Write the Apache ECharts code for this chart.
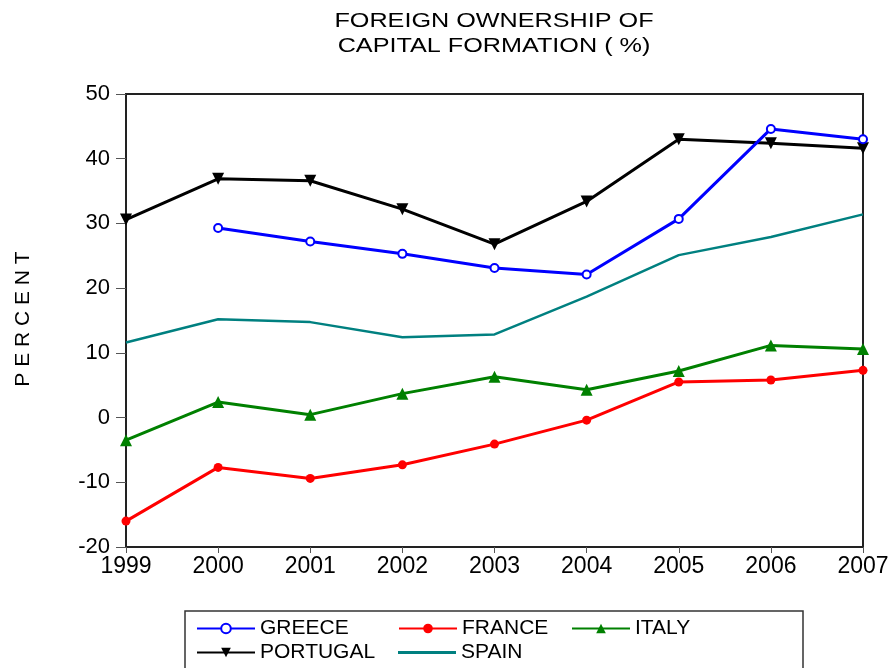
<!DOCTYPE html>
<html>
<head>
<meta charset="utf-8">
<script src="https://cdn.jsdelivr.net/npm/echarts@6/dist/echarts.min.js"></script>
<style>
    html, body { margin: 0; padding: 0; background: #fff; }
    #chart { width: 894px; height: 668px; }
</style>
</head>
<body>
<div id="chart"></div>
<script>
    // 数据
    var years = ['1999', '2000', '2001', '2002', '2003', '2004', '2005', '2006', '2007'];
    var greece = [null, 29.3, 27.2, 25.3, 23.1, 22.1, 30.7, 44.6, 43.0];
    var france = [-16.0, -7.7, -9.4, -7.3, -4.1, -0.4, 5.5, 5.8, 7.3];
    var italy = [-3.5, 2.4, 0.45, 3.7, 6.3, 4.3, 7.2, 11.15, 10.6];
    var portugal = [30.6, 36.9, 36.6, 32.2, 26.8, 33.4, 43.0, 42.4, 41.6];
    var spain = [11.6, 15.2, 14.75, 12.4, 12.85, 18.7, 25.1, 27.9, 31.4];

    var font = 'Liberation Sans, Arial, sans-serif';

    //图例，每个单独定位
    function makeLegend(name, left, top, extra) {
        var lg = {
            data: [name],
            left: left,
            top: top,
            padding: 0,
            itemWidth: 58,
            itemHeight: 12,
            itemGap: 10,
            textStyle: {color: '#000', fontSize: 21, fontFamily: font}
        };
        if (extra) {
            for (var k in extra) lg[k] = extra[k];
        }
        return lg;
    }

    //标题文字（横向稍拉伸）
    function titleLine(text, y) {
        return {
            type: 'text',
            x: 494,
            y: y,
            scaleX: 1.2,
            style: {
                text: text,
                fill: '#000',
                fontSize: 21,
                fontFamily: font,
                textAlign: 'center',
                textVerticalAlign: 'middle'
            }
        };
    }

    var option = {
        backgroundColor: '#fff',
        animation: false,
        grid: {
            left: 126,
            right: 31,
            top: 94,
            bottom: 121,
            show: true,
            borderColor: '#222',
            borderWidth: 2,
            backgroundColor: '#fff'
        },
        legend: [
            makeLegend('GREECE', 196, 618),
            makeLegend('FRANCE', 398, 618),
            makeLegend('ITALY', 571, 618),
            makeLegend('PORTUGAL', 196, 642),
            makeLegend('SPAIN', 398, 642, {icon: 'rect', itemHeight: 3})
        ],
        graphic: [
            titleLine('FOREIGN OWNERSHIP OF', 21),
            titleLine('CAPITAL FORMATION ( %)', 46),
            {
                type: 'rect',
                shape: {x: 185, y: 611, width: 618, height: 70},
                style: {fill: 'none', stroke: '#333', lineWidth: 1.5}
            },
            {
                type: 'text',
                x: 23,
                y: 319,
                rotation: Math.PI / 2,
                style: {
                    text: 'P E R C E N T',
                    fill: '#000',
                    fontSize: 21,
                    fontFamily: font,
                    textAlign: 'center',
                    textVerticalAlign: 'middle'
                }
            }
        ],
        xAxis: {
            type: 'category',
            data: years,
            boundaryGap: false,
            axisLine: {onZero: false, lineStyle: {color: '#222', width: 2}},
            axisTick: {show: true, length: 6, alignWithLabel: true, lineStyle: {color: '#555', width: 1}},
            axisLabel: {color: '#000', fontSize: 23, fontFamily: font, margin: 8},
            splitLine: {show: false}
        },
        yAxis: {
            type: 'value',
            min: -20,
            max: 50,
            interval: 10,
            axisLine: {show: true, lineStyle: {color: '#222', width: 2}},
            axisTick: {show: true, length: 10, lineStyle: {color: '#555', width: 1}},
            axisLabel: {color: '#000', fontSize: 22, fontFamily: font, margin: 16},
            splitLine: {show: false}
        },
        series: [
            {
                name: 'GREECE',
                type: 'line',
                data: greece,
                lineStyle: {width: 3, color: '#0000ff'},
                symbol: 'circle',
                symbolSize: 8,
                itemStyle: {color: '#fff', borderColor: '#0000ff', borderWidth: 2},
                z: 4
            },
            {
                name: 'FRANCE',
                type: 'line',
                data: france,
                color: '#ff0000',
                lineStyle: {width: 3},
                symbol: 'circle',
                symbolSize: 9
            },
            {
                name: 'ITALY',
                type: 'line',
                data: italy,
                color: '#008000',
                lineStyle: {width: 3},
                symbol: 'triangle',
                symbolSize: 12
            },
            {
                name: 'PORTUGAL',
                type: 'line',
                data: portugal,
                color: '#000',
                lineStyle: {width: 3},
                symbol: 'triangle',
                symbolRotate: 180,
                symbolSize: 12
            },
            {
                name: 'SPAIN',
                type: 'line',
                data: spain,
                color: '#008080',
                lineStyle: {width: 2.5},
                symbol: 'none'
            }
        ]
    };

    var myChart = echarts.init(document.getElementById('chart'));
    myChart.setOption(option);
</script>
</body>
</html>
